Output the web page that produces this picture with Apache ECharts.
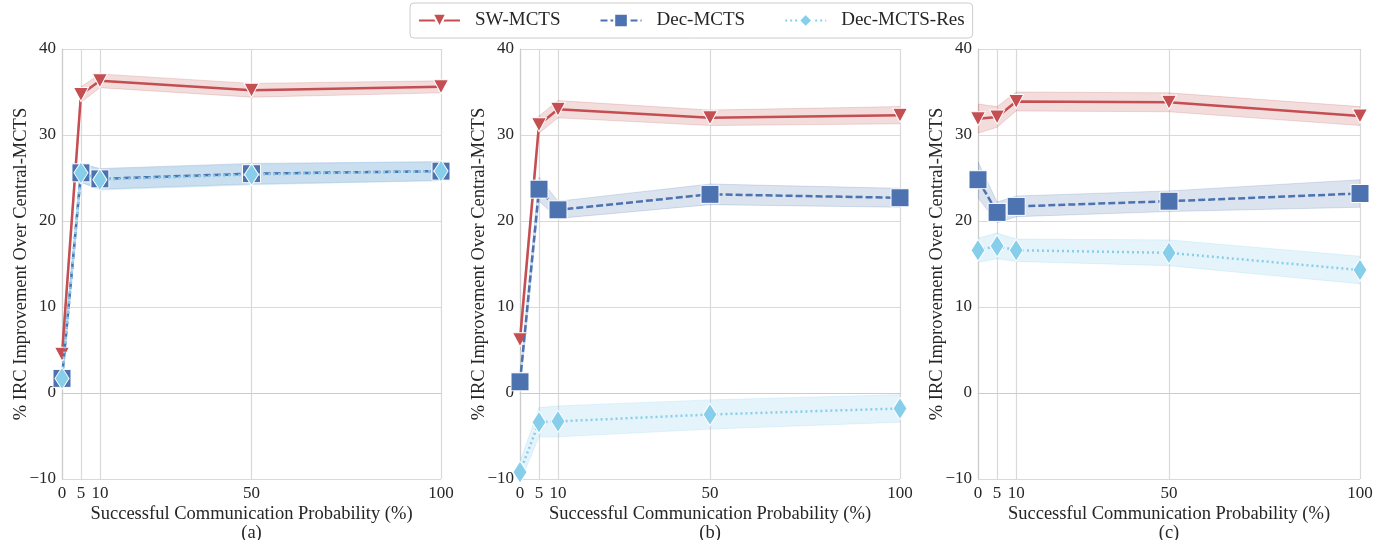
<!DOCTYPE html>
<html><head><meta charset="utf-8">
<script src="https://cdn.jsdelivr.net/npm/echarts@6/dist/echarts.min.js"></script>
<style>html,body{margin:0;padding:0;background:#fff}#c{width:1391px;height:540px}</style>
</head><body><div id="c"></div>
<script>
const xValues = [0, 5, 10, 50, 100];
const xTicks = [0, 5, 10, 50, 100];
const yTicks = [-10, 0, 10, 20, 30, 40];
const seriesNames = ['SW-MCTS', 'Dec-MCTS', 'Dec-MCTS-Res'];
const panelLabels = ['(a)', '(b)', '(c)'];

// panel (a)
const swA = [4.5, 34.7, 36.3, 35.2, 35.6];
const swA_ci = [1.2, 0.9, 0.8, 0.8, 0.7];
const decA = [1.7, 25.6, 24.9, 25.5, 25.8];
const decA_ci = [1.0, 1.1, 1.2, 1.2, 1.1];
const resA = [1.7, 25.6, 24.8, 25.4, 25.8];
const resA_ci = [1.0, 1.1, 1.2, 1.2, 1.1];
// panel (b)
const swB = [6.2, 31.2, 33.0, 32.0, 32.3];
const swB_ci = [1.2, 1.0, 1.0, 0.9, 1.0];
const decB = [1.3, 23.7, 21.3, 23.1, 22.7];
const decB_ci = [1.0, 1.4, 1.0, 1.2, 1.1];
const resB = [-9.2, -3.4, -3.3, -2.5, -1.8];
const resB_ci = [1.2, 1.7, 1.8, 1.7, 1.6];
// panel (c)
const swC = [31.9, 32.1, 33.9, 33.8, 32.2];
const swC_ci = [1.7, 1.2, 1.1, 1.1, 1.1];
const decC = [24.8, 21.0, 21.7, 22.3, 23.2];
const decC_ci = [2.1, 1.2, 1.2, 1.2, 1.6];
const resC = [16.6, 17.1, 16.6, 16.3, 14.3];
const resC_ci = [1.4, 1.5, 1.3, 1.5, 1.6];

const panels = [
  [[swA, swA_ci], [decA, decA_ci], [resA, resA_ci]],
  [[swB, swB_ci], [decB, decB_ci], [resB, resB_ci]],
  [[swC, swC_ci], [decC, decC_ci], [resC, resC_ci]]
];

const FONT = "'Liberation Serif','Times New Roman',serif";
const TXT = '#262626';
const colors = ['#c44e52', '#4c72b0', '#87ceeb'];
const bandColors = ['rgba(196,78,82,0.2)', 'rgba(76,114,176,0.2)', 'rgba(135,206,235,0.22)'];
const lineTypes = ['solid', [7, 3], [2, 3]];
const symbols = ['triangle', 'rect', 'diamond'];
const symbolSizes = [[15, 14], [18, 18], [14, 22]];
const symbolRot = [180, 0, 0];

const gridLefts = [62, 520, 978];
const gridWidths = [379, 380, 382];

const grids = [], xAxes = [], yAxes = [], series = [];
const minus = v => String(v).replace('-', '\u2212');

panels.forEach((panel, p) => {
  grids.push({left: gridLefts[p], width: gridWidths[p], top: 49, height: 430, outerBoundsMode: 'none', containLabel: false});
  xAxes.push({
    type: 'value', gridIndex: p, min: 0, max: 100,
    name: 'Successful Communication Probability (%)\n' + panelLabels[p],
    nameLocation: 'middle', nameGap: 26, nameMoveOverlap: false,
    nameTextStyle: {fontFamily: FONT, fontSize: 18.5, color: TXT, lineHeight: 19},
    axisLine: {show: true, lineStyle: {color: '#cccccc', width: 1.2}},
    axisTick: {show: false, customValues: xTicks},
    axisLabel: {customValues: xTicks, fontFamily: FONT, fontSize: 17, color: TXT, margin: 6},
    splitLine: {show: true, lineStyle: {color: '#d9d9d9', width: 1.2}}
  });
  yAxes.push({
    type: 'value', gridIndex: p, min: -10, max: 40, interval: 10,
    name: '% IRC Improvement Over Central-MCTS',
    nameLocation: 'middle', nameGap: 31, nameRotate: 90, nameMoveOverlap: false,
    nameTextStyle: {fontFamily: FONT, fontSize: 18.5, color: TXT},
    axisLine: {show: true, lineStyle: {color: '#cccccc', width: 1.2}},
    axisTick: {show: false},
    axisLabel: {fontFamily: FONT, fontSize: 17, color: TXT, margin: 6, formatter: minus},
    splitLine: {show: true, lineStyle: {color: '#d9d9d9', width: 1.2}}
  });
  // bands
  panel.forEach(([mean, ci], s) => {
    const data = xValues.map((x, i) => [x, mean[i] - ci[i], mean[i] + ci[i]]);
    series.push({
      type: 'custom', xAxisIndex: p, yAxisIndex: p, clip: true, silent: true,
      z: 1,
      encode: {x: 0, y: [1, 2]},
      data: data,
      renderItem: function (params, api) {
        if (params.dataIndex !== 0) return null;
        const upper = data.map(d => api.coord([d[0], d[2]]));
        const lower = data.map(d => api.coord([d[0], d[1]])).reverse();
        return {
          type: 'polygon',
          shape: {points: upper.concat(lower)},
          style: {fill: bandColors[s], stroke: bandColors[s], lineWidth: 1}
        };
      }
    });
  });
  // lines
  panel.forEach(([mean], s) => {
    series.push({
      name: seriesNames[s], type: 'line', xAxisIndex: p, yAxisIndex: p,
      data: xValues.map((x, i) => [x, mean[i]]),
      z: 3 + s,
      symbol: symbols[s], symbolSize: symbolSizes[s], symbolRotate: symbolRot[s],
      showAllSymbol: true,
      lineStyle: {color: colors[s], width: 2.5, type: lineTypes[s]},
      itemStyle: {color: colors[s], borderColor: '#ffffff', borderWidth: 1},
      emphasis: {disabled: true},
      animation: false
    });
  });
});

const chart = echarts.init(document.getElementById('c'), null, {renderer: 'canvas'});
chart.setOption({
  animation: false,
  legend: {
    top: 3, left: 410,
    data: seriesNames,
    itemWidth: 41, itemHeight: 17, itemGap: 39,
    padding: [8, 8],
    borderColor: '#cccccc', borderWidth: 1, borderRadius: 4,
    textStyle: {fontFamily: FONT, fontSize: 19, color: TXT, padding: [0, 0, 0, 10]}
  },
  grid: grids, xAxis: xAxes, yAxis: yAxes, series: series
});
</script></body></html>
